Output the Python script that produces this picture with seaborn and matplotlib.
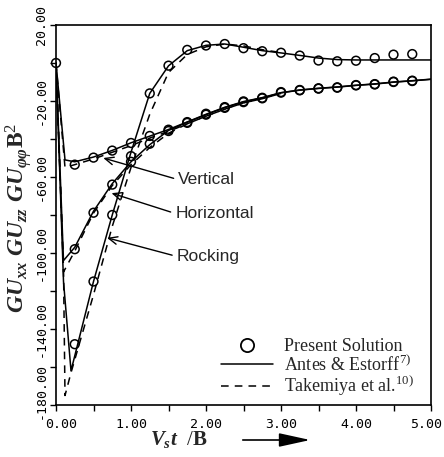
import matplotlib
matplotlib.use("Agg")
import matplotlib.pyplot as plt
import matplotlib.transforms as mtransforms
import numpy as np
import seaborn as sns
from matplotlib.lines import Line2D

# ---------------- data ----------------
# Antes & Estorff (solid lines)
ae_vert_x = [0, 0.12, 0.25, 0.5, 0.75, 1.0, 1.25, 1.5, 1.75, 2.0, 2.25, 2.5, 2.75,
             3.0, 3.25, 3.5, 3.75, 4.0, 4.25, 4.5, 4.75, 5.0]
ae_vert_y = [0, -51, -52, -49.5, -46, -42, -38.5, -35, -31, -27, -23.3, -20.3, -18.2,
             -15.6, -14.2, -13.3, -12.6, -11.7, -11.0, -10.0, -9.3, -8.5]
ae_horz_x = [0, 0.1, 0.25, 0.5, 0.75, 1.0, 1.25, 1.5, 1.75, 2.0, 2.25, 2.5, 2.75,
             3.0, 3.25, 3.5, 3.75, 4.0, 4.25, 4.5, 4.75, 5.0]
ae_horz_y = [0, -104, -97, -78, -63.5, -52, -43, -35.5, -31.2, -27.2, -23.5, -20.5, -18.4,
             -15.7, -14.3, -13.4, -12.7, -11.8, -11.1, -10.1, -9.4, -8.6]
ae_rock_x = [0, 0.1, 0.2, 0.5, 0.75, 1.0, 1.25, 1.5, 1.75, 2.0, 2.25, 2.5, 2.75,
             3.0, 3.25, 3.5, 3.75, 4.0, 4.5, 5.0]
ae_rock_y = [0, -115, -162, -115, -80, -47, -16, -1.5, 6.5, 9.3, 10.0, 8.3, 6.5,
             5.3, 4.0, 2.6, 1.8, 1.6, 1.6, 1.6]

# Takemiya et al. (dashed lines)
tk_vert_x = [0, 0.12, 0.25, 0.5, 0.75, 1.0, 1.25, 1.5, 1.75, 2.0, 2.25, 2.5, 2.75, 3.0]
tk_vert_y = [0, -55, -53.5, -50.5, -47, -43.5, -39.5, -36, -32, -28, -24.3, -21, -18.8, -16]
tk_horz_x = [0, 0.1, 0.25, 0.5, 0.75, 1.0, 1.25, 1.5, 1.75, 2.0, 2.25, 2.5, 2.75, 3.0]
tk_horz_y = [0, -110, -99, -79, -64.5, -53.5, -44.5, -37, -32, -28, -24.3, -21, -18.8, -16]
tk_rock_x = [0, 0.1, 0.12, 0.2, 0.5, 0.75, 1.0, 1.25, 1.5, 1.75, 2.0, 2.25, 2.5, 2.75, 3.0]
tk_rock_y = [0, -108, -175, -163, -122, -86, -55, -27, -5, 4.5, 8.5, 10, 9, 7, 5.5]

# Present solution (circles)
ps_x = [0.25, 0.5, 0.75, 1.0, 1.25, 1.5, 1.75, 2.0, 2.25, 2.5, 2.75, 3.0,
        3.25, 3.5, 3.75, 4.0, 4.25, 4.5, 4.75]
ps_vert = [-53.5, -49.8, -46.1, -42.1, -38.4, -35.1, -31.1, -26.7, -23.2, -20.2, -18.3,
           -15.3, -14.2, -13.3, -12.8, -11.6, -11.1, -9.8, -9.3]
ps_horz = [-98, -78.8, -64, -52, -42.5, -35.8, -31.5, -27.2, -23.6, -20.6, -18.6,
           -15.6, -14.4, -13.5, -13.0, -11.8, -11.3, -10.0, -9.5]
ps_rock = [-148, -115, -80, -49, -16, -1.4, 6.9, 9.2, 10.0, 7.8, 6.2,
           5.4, 3.9, 1.3, 0.9, 1.2, 2.6, 4.4, 4.7]
ps_origin = (0.0, 0.0)

x_ticks = [0, 0.5, 1, 1.5, 2, 2.5, 3, 3.5, 4, 4.5, 5]
x_ticklabels = ["0.00", "", "1.00", "", "2.00", "", "3.00", "", "4.00", "", "5.00"]
y_ticks = [20, 0, -20, -40, -60, -80, -100, -120, -140, -160, -180]
y_ticklabels = ["20.00", "", "-20.00", "", "-60.00", "", "-100.00", "", "-140.00", "", "-180.00"]

curve_names = ["Vertical", "Horizontal", "Rocking"]
legend_labels = ["Present Solution", r"Antes & Estorff$^{7)}$", r"Takemiya et al.$^{10)}$"]

# ---------------- style ----------------
sns.set_theme(style="ticks")
plt.rcParams.update({
    "font.family": ["Liberation Sans", "DejaVu Sans"],
    "mathtext.fontset": "custom",
    "mathtext.rm": "Liberation Serif",
    "mathtext.it": "Liberation Serif:italic:bold",
    "mathtext.bf": "Liberation Serif:bold",
    "axes.linewidth": 1.2,
    "axes.edgecolor": "black",
    "axes.unicode_minus": False,
    "xtick.color": "black",
    "ytick.color": "black",
})

fig = plt.figure(figsize=(4.44, 4.57), dpi=100)
W, H = 444, 457
ax = fig.add_axes([56 / W, 1 - 405 / H, 375 / W, 380 / H])

lw = 1.1
dash = (0, (5, 4))
for xs, ys in [(ae_vert_x, ae_vert_y), (ae_horz_x, ae_horz_y), (ae_rock_x, ae_rock_y)]:
    sns.lineplot(x=xs, y=ys, ax=ax, color="black", lw=lw, sort=False, estimator=None)
for xs, ys in [(tk_vert_x, tk_vert_y), (tk_horz_x, tk_horz_y), (tk_rock_x, tk_rock_y)]:
    sns.lineplot(x=xs, y=ys, ax=ax, color="black", lw=lw, ls=dash, sort=False, estimator=None)

msize = 40
for ys in [ps_vert, ps_horz, ps_rock]:
    sns.scatterplot(x=ps_x, y=ys, ax=ax, marker="o", s=msize, facecolor="none",
                    edgecolor="black", linewidth=1.1, zorder=3)
sns.scatterplot(x=[ps_origin[0]], y=[ps_origin[1]], ax=ax, marker="o", s=msize,
                facecolor="none", edgecolor="black", linewidth=1.1, zorder=3, clip_on=False)

ax.set_xlim(0, 5)
ax.set_ylim(-180, 20)
ax.set_xticks(x_ticks)
ax.set_xticklabels(x_ticklabels)
ax.set_yticks(y_ticks)
ax.set_yticklabels(y_ticklabels, rotation=90, va="center")
ax.tick_params(axis="both", direction="out", length=4, width=1.0, labelsize=9.5)
ax.tick_params(axis="x", pad=5)
ax.tick_params(axis="y", pad=2)
for lab in ax.get_xticklabels() + ax.get_yticklabels():
    lab.set_family("DejaVu Sans Mono")


def nudge(label, dx_px, dy_px):
    label.set_transform(label.get_transform() +
                        mtransforms.ScaledTranslation(dx_px / 100, dy_px / 100,
                                                      fig.dpi_scale_trans))


# keep the corner labels clear of each other and of the figure edge
nudge(ax.get_xticklabels()[0], 5, 0)
nudge(ax.get_xticklabels()[-1], -5, 0)
nudge(ax.get_yticklabels()[-1], 0, 14)
ax.set_xlabel("")
ax.set_ylabel("")

# curve annotations
ann = {
    "Vertical": ((0.63, -50), (1.63, -61.4)),
    "Horizontal": ((0.74, -68.5), (1.59, -79.2)),
    "Rocking": ((0.68, -92), (1.61, -101.8)),
}
for name in curve_names:
    head, tail = ann[name]
    ax.annotate(name, xy=head, xytext=tail, fontsize=12.5, ha="left", va="center",
                arrowprops=dict(arrowstyle="->,head_length=0.5,head_width=0.22",
                                color="black", lw=1.0, relpos=(0, 0.5),
                                shrinkA=1, shrinkB=0))

# legend
handles = [
    Line2D([], [], ls="none", marker="o", mfc="none", mec="black", ms=9.5, mew=1.3),
    Line2D([], [], color="black", lw=lw),
    Line2D([], [], color="black", lw=lw, ls=dash),
]
ax.legend(handles, legend_labels, loc="lower right", frameon=False,
          prop={"family": "Liberation Serif", "size": 13},
          handlelength=2.9, handletextpad=0.6, labelspacing=-0.04,
          borderaxespad=0, borderpad=0, bbox_to_anchor=(0.955, 0.018))

# axis titles
fig.text(18 / W, 1 - 218 / H,
         r"$GU_{xx}\ GU_{zz}\ GU_{\varphi\varphi}\mathbf{B}^{2}$",
         rotation=90, ha="center", va="center", fontsize=17)
fig.text(150 / W, 1 - 440 / H, r"$V_{s}t\ \ /\mathbf{B}$",
         ha="left", va="center", fontsize=15)
fig.add_artist(matplotlib.patches.FancyArrowPatch(
    (240 / W, 1 - 440 / H), (313 / W, 1 - 440 / H), transform=fig.transFigure,
    arrowstyle="-|>,head_length=1.6,head_width=0.35", color="black", lw=1.2,
    mutation_scale=12))

fig.savefig("out.png", dpi=100)
